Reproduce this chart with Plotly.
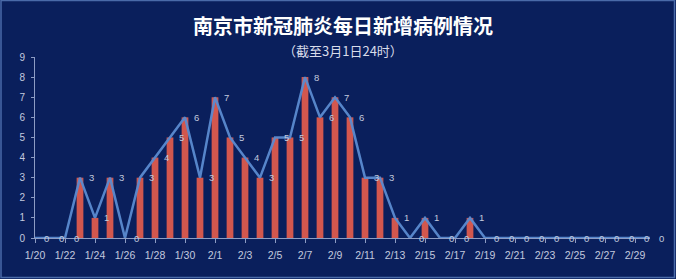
import plotly.graph_objects as go

dates = ["1/20", "1/21", "1/22", "1/23", "1/24", "1/25", "1/26", "1/27", "1/28", "1/29",
         "1/30", "1/31", "2/1", "2/2", "2/3", "2/4", "2/5", "2/6", "2/7", "2/8",
         "2/9", "2/10", "2/11", "2/12", "2/13", "2/14", "2/15", "2/16", "2/17", "2/18",
         "2/19", "2/20", "2/21", "2/22", "2/23", "2/24", "2/25", "2/26", "2/27", "2/28",
         "2/29", "3/1"]
new_cases = [0, 0, 0, 3, 1, 3, 0, 3, 4, 5,
             6, 3, 7, 5, 4, 3, 5, 5, 8, 6,
             7, 6, 3, 3, 1, 0, 1, 0, 0, 1,
             0, 0, 0, 0, 0, 0, 0, 0, 0, 0,
             0, 0]
tick_labels = dates[:-1:2]
y_ticks = list(range(0, 10))

title_text = "南京市新冠肺炎每日新增病例情况"
subtitle_text = "（截至3月1日24时）"

W, H = 676, 279
L, R, T, B = 35, 26, 57, 41
bg = "#0a1f5c"
axis_col = "#8d9cc4"
label_col = "#c3cadf"

fig = go.Figure()
fig.add_trace(go.Bar(x=dates, y=new_cases, marker=dict(color="#d2574e", line=dict(width=0)),
                     width=0.45, showlegend=False, hoverinfo="skip"))
fig.add_trace(go.Scatter(x=dates, y=new_cases, mode="lines",
                         line=dict(color="#5b8bd0", width=2.5), opacity=0.95,
                         showlegend=False, hoverinfo="skip"))

annotations = []
for d, v in zip(dates, new_cases):
    annotations.append(dict(x=d, y=v, xref="x", yref="y", text=str(v), showarrow=False,
                            xshift=11, font=dict(size=9.5, color=label_col,
                                                 family="Liberation Sans, Arial")))
annotations.append(dict(x=0.5, y=1, xref="paper", yref="paper", yanchor="top",
                        xanchor="center", text="<b>" + title_text + "</b>", showarrow=False,
                        yshift=T - 9, font=dict(size=20, color="white",
                                                 family="Noto Sans CJK SC")))
annotations.append(dict(x=0.5, y=1, xref="paper", yref="paper", yanchor="top",
                        xanchor="center", text=subtitle_text, showarrow=False,
                        yshift=T - 39, font=dict(size=13, color="#d8dcea",
                                                  family="Noto Sans CJK SC")))

pw = W - L - R
ph = H - T - B
shapes = [dict(type="rect", xref="paper", yref="paper",
               x0=(-L + 1) / pw, x1=(W - L - 1.5) / pw,
               y0=(-B + 1.5) / ph, y1=(H - B - 0.5) / ph,
               line=dict(color="#4a6aa8", width=1.5), fillcolor="rgba(0,0,0,0)", layer="below")]

fig.update_layout(
    width=W, height=H,
    margin=dict(l=L, r=R, t=T, b=B),
    paper_bgcolor=bg, plot_bgcolor=bg,
    bargap=0.55,
    annotations=annotations,
    shapes=shapes,
    xaxis=dict(type="category", categoryorder="array", categoryarray=dates,
               range=[0, len(dates) - 1],
               tickvals=tick_labels, ticktext=tick_labels,
               showgrid=False, zeroline=False,
               showline=True, linecolor=axis_col, linewidth=1,
               ticks="outside", ticklen=4, tickcolor=axis_col,
               ticklabelstandoff=3,
               tickfont=dict(size=10.5, color=label_col, family="Liberation Sans, Arial"),
               tickangle=0),
    yaxis=dict(range=[0, 9], tickvals=y_ticks, showgrid=False, zeroline=False,
               showline=True, linecolor=axis_col, linewidth=1,
               ticks="outside", ticklen=3, tickcolor=axis_col,
               ticklabelstandoff=4,
               tickfont=dict(size=10, color=label_col, family="Liberation Sans, Arial")),
)

fig.write_html("out.html")
